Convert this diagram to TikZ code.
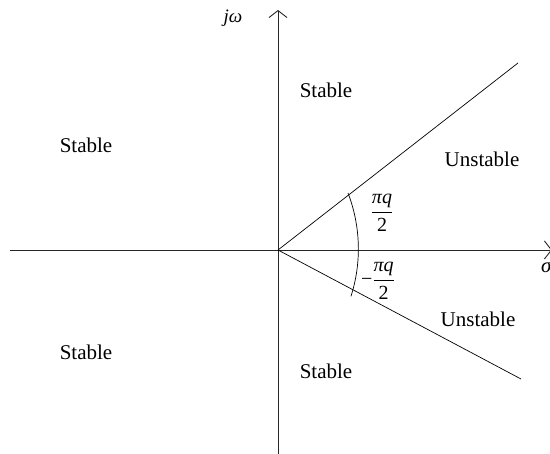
\documentclass[tikz,border=0pt]{standalone}
\usepackage{fontspec}
\setmainfont{Liberation Serif}
\usetikzlibrary{arrows.meta}
\newcommand{\piqfrac}{\frac{\mbox{\itshape πq}}{\mbox{2}}}
\begin{document}
\begin{tikzpicture}[x=1pt,y=-1pt,
  axis/.style={line width=0.9pt,draw=black!85},
  ray/.style={line width=0.7pt},
  lbl/.style={font=\fontsize{21}{24}\selectfont,inner sep=0pt},
  frac/.style={font=\fontsize{20}{24}\selectfont,inner sep=0pt}]
\useasboundingbox (0,0) rectangle (550,454);
\coordinate (O) at (278,250);
\coordinate (xl) at (10,250);
\coordinate (xr) at (552,250);
\coordinate (yb) at (278,454);
\coordinate (yt) at (278,10);
\coordinate (u) at (518,63);
\coordinate (d) at (521,379);
\coordinate (a0) at (348,193);
\draw[axis,-{Straight Barb[length=7pt,width=18pt]}] (xl) -- (xr);
\draw[axis,-{Straight Barb[length=7pt,width=18pt]}] (yb) -- (yt);
\draw[ray] (O) -- (u);
\draw[ray] (O) -- (d);
\draw[ray] (a0) arc[start angle=-21,end angle=17.7,radius=156];
\node[lbl,font=\fontsize{19}{22}\selectfont\itshape] (jw) at (233,18) {jω};
\node[lbl,font=\fontsize{21}{24}\selectfont\itshape,anchor=west] (sig) at (541,267) {σ};
\node[lbl] (s1) at (326,90) {Stable};
\node[lbl] (s2) at (86,145) {Stable};
\node[lbl] (s3) at (86,352) {Stable};
\node[lbl] (s4) at (326,371) {Stable};
\node[lbl] (u1) at (482,159) {Unstable};
\node[lbl] (u2) at (478,319) {Unstable};
\node[frac] (f1) at (382,213) {$\displaystyle\piqfrac$};
\node[frac] (f2) at (378,281) {$\displaystyle\mbox{−}\piqfrac$};
\end{tikzpicture}
\end{document}
